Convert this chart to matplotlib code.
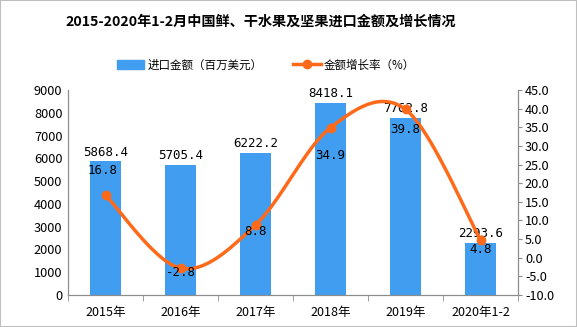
import numpy as np
import matplotlib
matplotlib.use("Agg")
import matplotlib.pyplot as plt
from matplotlib.patches import Rectangle
from matplotlib.lines import Line2D

plt.rcParams['font.family'] = ['Noto Sans CJK SC', 'DejaVu Sans']

categories = ["2015年", "2016年", "2017年", "2018年", "2019年", "2020年1-2"]
amount = [5868.4, 5705.4, 6222.2, 8418.1, 7762.8, 2293.6]
growth = [16.8, -2.8, 8.8, 34.9, 39.8, 4.8]
title = "2015-2020年1-2月中国鲜、干水果及坚果进口金额及增长情况"
bar_label = "进口金额（百万美元）"
line_label = "金额增长率（%）"

bar_color = "#419DEF"
line_color = "#FF6A1A"
axis_color = "#8C8C8C"

fig = plt.figure(figsize=(5.77, 3.27), dpi=100)
fig.patches.append(Rectangle((0, 0), 1, 1, transform=fig.transFigure, fill=False,
                             edgecolor="#BFBFBF", linewidth=1.5))
ax = fig.add_axes([68/577, 1-295/327, 450/577, 205/327])
ax2 = ax.twinx()

x = np.arange(len(categories))
ax.bar(x, amount, width=0.41, color=bar_color, zorder=2)
ax.set_xlim(-0.5, len(categories) - 0.5)
ax.set_ylim(0, 9000)
ax.set_yticks(np.arange(0, 9001, 1000))
ax.set_xticks(x)
ax.set_xticklabels(categories)
ax.set_xticks(np.arange(-0.5, len(categories), 1), minor=True)
ax.tick_params(axis='x', which='major', length=0, pad=8, labelsize=9)
ax.tick_params(axis='x', which='minor', length=4, color=axis_color)
ax.tick_params(axis='y', length=0, labelsize=9.2, pad=4)

for a in (ax, ax2):
    a.spines["top"].set_visible(False)
    for s in ("left", "right", "bottom"):
        a.spines[s].set_color(axis_color)

for xi, v in zip(x, amount):
    ax.annotate(f"{v:.1f}", (xi, v), xytext=(0, 2), textcoords="offset points",
                ha="center", va="bottom", fontsize=9, family="DejaVu Sans Mono")

# smoothed line (Catmull-Rom style Bezier through the data points)
def smooth(xs, ys, n=40):
    xs = np.asarray(xs, float); ys = np.asarray(ys, float)
    px = np.concatenate([[xs[0]], xs, [xs[-1]]])
    py = np.concatenate([[ys[0]], ys, [ys[-1]]])
    ox, oy = [], []
    for i in range(1, len(px) - 2):
        p0, p1, p2, p3 = [np.array([px[j], py[j]]) for j in (i-1, i, i+1, i+2)]
        c1 = p1 + (p2 - p0) / 6
        c2 = p2 - (p3 - p1) / 6
        t = np.linspace(0, 1, n)[:, None]
        b = (1-t)**3*p1 + 3*(1-t)**2*t*c1 + 3*(1-t)*t**2*c2 + t**3*p2
        ox.extend(b[:, 0]); oy.extend(b[:, 1])
    return np.array(ox), np.array(oy)

sx, sy = smooth(x, growth)
ax2.plot(sx, sy, color=line_color, linewidth=2.5, zorder=3)
ax2.plot(x, growth, 'o', color=line_color, markersize=6, zorder=4)
ax2.set_ylim(-10, 45)
ax2.set_yticks(np.arange(-10, 46, 5))
ax2.set_yticklabels([f"{v:.1f}" for v in np.arange(-10, 46, 5)])
ax2.tick_params(axis='y', length=3, color=axis_color, labelsize=9.2, pad=2)

offsets_px = [(-3, 25), (0, -4), (0, -7), (0, -28), (0, -20), (0, -10)]
for xi, v, (dx, dy) in zip(x, growth, offsets_px):
    ax2.annotate(f"{v:.1f}", (xi, v), xytext=(dx*0.72, dy*0.72), textcoords="offset points",
                 ha="center", va="center", fontsize=9, family="DejaVu Sans Mono", zorder=5)

fig.text(261/577, 1-22/327, title, ha="center", va="center", fontsize=10.2, fontweight="bold")

handles = [Rectangle((0, 0), 1, 1, color=bar_color),
           Line2D([0], [0], color=line_color, linewidth=2.5, marker='o', markersize=6)]
fig.legend(handles, [bar_label, line_label], loc="center", bbox_to_anchor=(266/577, 1-65/327),
           ncol=2, frameon=False, fontsize=8.3, columnspacing=2.6, handlelength=2.4,
           handletextpad=0.3)

fig.savefig("out.png", dpi=100)
